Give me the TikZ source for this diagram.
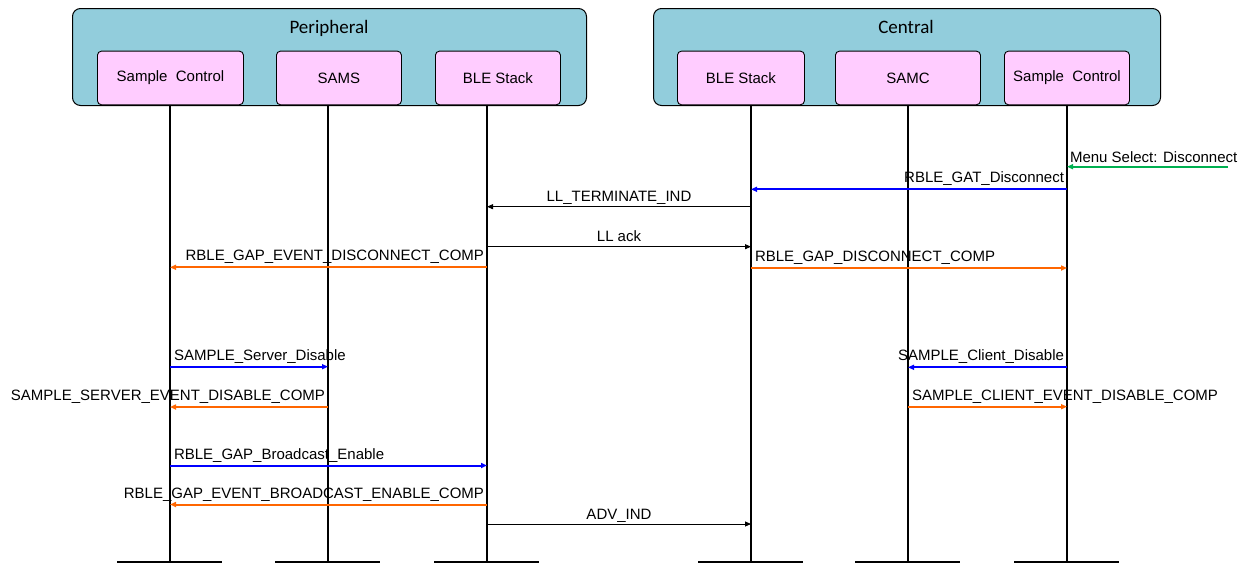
\documentclass[tikz,border=0pt]{standalone}
\usepackage{fontspec}
\setmainfont{Liberation Sans}
\newfontfamily\titlefont{Carlito}
\usetikzlibrary{arrows.meta,positioning}

\definecolor{panelblue}{RGB}{146,205,220}
\definecolor{boxpink}{RGB}{255,204,255}
\definecolor{msgblue}{RGB}{0,0,255}
\definecolor{msgorange}{RGB}{255,102,0}
\definecolor{msggreen}{RGB}{0,176,80}

\begin{document}
\begin{tikzpicture}[
    x=1pt, y=-1pt,
    panel/.style={rectangle, draw, line width=1pt, rounded corners=8pt, fill=panelblue, anchor=north west, inner sep=0pt, minimum height=97pt},
    title/.style={font=\titlefont\fontsize{19}{22}\selectfont, anchor=base},
    box/.style={rectangle, draw, line width=0.9pt, rounded corners=4pt, fill=boxpink, anchor=north west, inner sep=0pt, minimum height=53.6pt, font=\fontsize{15}{18}\selectfont},
    life/.style={line width=2pt},
    bar/.style={line width=2.5pt},
    arrow/.style={-{Triangle[length=6pt,width=5pt]}, line width=0.9pt},
    call/.style={arrow, line width=2pt, msgblue},
    reply/.style={arrow, line width=2pt, msgorange},
    lbl/.style={inner sep=0pt, font=\fontsize{15}{18}\selectfont, text=black, yshift=6.5pt},
    lbl west/.style={lbl, anchor=base west, xshift=3pt},
    lbl east/.style={lbl, anchor=base east, xshift=-2pt},
    lbl mid/.style={lbl, anchor=base, yshift=-1.5pt}
]
    \useasboundingbox (0,0) rectangle (1250,565);

    % Peripheral side
    \node[panel, minimum width=514pt] (periph) at (72,8) {};
    \node[title] at (329,33) {Peripheral};
    \node[box, minimum width=146pt] (pscbox) at (97,50.7) {Sample~~Control};
    \node[box, minimum width=125pt] (psamsbox) at (276,50.7) {SAMS};
    \node[box, minimum width=125pt] (pblebox) at (435,50.7) {BLE Stack};

    % Central side
    \node[panel, minimum width=507pt] (central) at (653,8) {};
    \node[title] at (906,33) {Central};
    \node[box, minimum width=127pt] (cblebox) at (677,50.7) {BLE Stack};
    \node[box, minimum width=145pt] (csamcbox) at (835,50.7) {SAMC};
    \node[box, minimum width=125pt] (cscbox) at (1004,50.7) {Sample~~Control};

    % Lifelines
    \foreach \n/\x in {psc/170, psams/328, pble/487, cble/751, csamc/908, csc/1067} {
        \coordinate (\n) at (\x,106);
        \coordinate (\n-end) at (\x,562);
        \draw[life] (\n) -- (\n-end);
        \draw[bar] ([xshift=-53pt]\n-end) -- ([xshift=52pt]\n-end);
    }

    % Message rows
    \foreach \r/\y in {r1/166.7, r2/189.3, r3/206.7, r4/246.7, r5/267.3, r6/268, r7/366.7, r8/367.3, r9/407, r10/406.7, r11/465.5, r12/504.5, r13/524}
        \coordinate (\r) at (0,\y);
    \coordinate (menu) at (1228,166.7);

    % Disconnect
    \draw[arrow, msggreen, line width=2pt] (menu) -- node[lbl west, pos=1, xshift=-1pt, yshift=-2pt] {Menu Select: Disconnect} (csc |- r1);
    \draw[call] (csc |- r2) -- node[lbl east, pos=0] {RBLE\_GAT\_Disconnect} (cble |- r2);
    \draw[arrow] (cble |- r3) -- node[lbl mid] {LL\_TERMINATE\_IND} (pble |- r3);
    \draw[arrow] (pble |- r4) -- node[lbl mid] {LL ack} (cble |- r4);
    \draw[reply] (pble |- r5) -- node[lbl east, pos=0] {RBLE\_GAP\_EVENT\_DISCONNECT\_COMP} (psc |- r5);
    \draw[reply] (cble |- r6) -- node[lbl west, pos=0] {RBLE\_GAP\_DISCONNECT\_COMP} (csc |- r6);

    % Disable
    \draw[call] (psc |- r7) -- node[lbl west, pos=0] {SAMPLE\_Server\_Disable} (psams |- r7);
    \draw[call] (csc |- r8) -- node[lbl east, pos=0] {SAMPLE\_Client\_Disable} (csamc |- r8);
    \draw[reply] (psams |- r9) -- node[lbl east, pos=0] {SAMPLE\_SERVER\_EVENT\_DISABLE\_COMP} (psc |- r9);
    \draw[reply] (csamc |- r10) -- node[lbl west, pos=0] {SAMPLE\_CLIENT\_EVENT\_DISABLE\_COMP} (csc |- r10);

    % Broadcast
    \draw[call] (psc |- r11) -- node[lbl west, pos=0] {RBLE\_GAP\_Broadcast\_Enable} (pble |- r11);
    \draw[reply] (pble |- r12) -- node[lbl east, pos=0] {RBLE\_GAP\_EVENT\_BROADCAST\_ENABLE\_COMP} (psc |- r12);
    \draw[arrow] (pble |- r13) -- node[lbl mid] {ADV\_IND} (cble |- r13);

\end{tikzpicture}
\end{document}
